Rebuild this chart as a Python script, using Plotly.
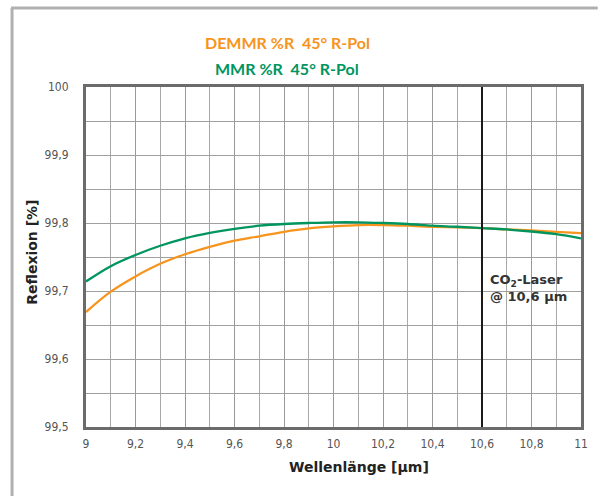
import plotly.graph_objects as go

wavelength = [9.0, 9.1, 9.2, 9.3, 9.4, 9.5, 9.6, 9.7, 9.8, 9.9, 10.0,
              10.1, 10.2, 10.3, 10.4, 10.5, 10.6, 10.7, 10.8, 10.9, 11.0]
mmr = [99.714, 99.7365, 99.753, 99.7665, 99.7775, 99.7855, 99.7915, 99.796, 99.7985, 99.800, 99.801,
       99.801, 99.800, 99.7985, 99.796, 99.7945, 99.7925, 99.7905, 99.7875, 99.7835, 99.7775]
demmr = [99.669, 99.699, 99.7215, 99.740, 99.754, 99.765, 99.774, 99.7805, 99.787, 99.792, 99.795,
         99.797, 99.797, 99.796, 99.7945, 99.7935, 99.7925, 99.7905, 99.789, 99.787, 99.785]
laser_wl = 10.6

x_tickvals = [9.0, 9.2, 9.4, 9.6, 9.8, 10.0, 10.2, 10.4, 10.6, 10.8, 11.0]
x_ticktext = ["9", "9,2", "9,4", "9,6", "9,8", "10", "10,2", "10,4", "10,6", "10,8", "11"]
y_tickvals = [99.5, 99.6, 99.7, 99.8, 99.9, 100.0]
y_ticktext = ["99,5", "99,6", "99,7", "99,8", "99,9", "100"]

ORANGE = "#F7941D"
GREEN = "#00955F"
TICKFONT = dict(family="DejaVu Sans Condensed, Liberation Sans Narrow, sans-serif", size=12, color="#555555")
BOLD = "Lato, DejaVu Sans, sans-serif"
WIDE = "DejaVu Sans, sans-serif"

fig = go.Figure()
fig.add_trace(go.Scatter(x=wavelength, y=demmr, mode="lines", line=dict(color=ORANGE, width=2.3, shape="spline"),
                         name="DEMMR", showlegend=False))
fig.add_trace(go.Scatter(x=wavelength, y=mmr, mode="lines", line=dict(color=GREEN, width=2.3, shape="spline"),
                         name="MMR", showlegend=False))

L, R, T, B = 86, 11, 87, 69
W, H = 599, 496
pw, ph = W - L - R, H - T - B


def px(xp):
    return (xp - L) / pw


def py(yp):
    return (H - B - yp) / ph


def note(text, x, y, font, **kw):
    d = dict(text=text, xref="paper", yref="paper", x=px(x), y=py(y), showarrow=False,
             xanchor="center", yanchor="middle", font=font)
    d.update(kw)
    return d


fig.update_layout(
    width=W, height=H,
    margin=dict(l=L, r=R, t=T, b=B),
    paper_bgcolor="white", plot_bgcolor="white",
    xaxis=dict(range=[9, 11], tickvals=x_tickvals, ticktext=x_ticktext, showgrid=True,
               gridcolor="#999999", gridwidth=1, tickfont=TICKFONT, ticks="", ticklen=0,
               ticklabelstandoff=4,
               showline=True, mirror=True, linecolor="#6b6b6b", linewidth=3, zeroline=False,
               minor=dict(dtick=0.1, tick0=9, showgrid=True, gridcolor="#a8a8a8", gridwidth=1)),
    yaxis=dict(range=[99.5, 100], tickvals=y_tickvals, ticktext=y_ticktext, showgrid=True,
               gridcolor="#a0a0a0", gridwidth=1, tickfont=TICKFONT, ticks="", ticklen=0,
               ticklabelstandoff=12,
               showline=True, mirror=True, linecolor="#6b6b6b", linewidth=3, zeroline=False,
               minor=dict(dtick=0.05, tick0=99.5, showgrid=True, gridcolor="#a0a0a0", gridwidth=1)),
    shapes=[
        dict(type="line", xref="x", yref="paper", x0=laser_wl, x1=laser_wl, y0=0, y1=1,
             line=dict(color="#1a1a1a", width=2)),
        dict(type="line", xref="paper", yref="paper", x0=px(11), x1=px(11), y0=py(8), y1=py(500),
             line=dict(color="#b0b0b0", width=3)),
        dict(type="line", xref="paper", yref="paper", x0=px(10), x1=px(605), y0=py(8), y1=py(8),
             line=dict(color="#b0b0b0", width=3)),
    ],
    annotations=[
        note("<b>DEMMR %R  45° R-Pol</b>", 290, 42, dict(family=BOLD, size=16, color=ORANGE)),
        note("<b>MMR %R  45° R-Pol</b>", 290, 68, dict(family=BOLD, size=16, color=GREEN)),
        note("<b>Reflexion [%]</b>", 31, 252, dict(family=WIDE, size=14, color="#222222"), textangle=-90),
        note("<b>Wellenlänge [µm]</b>", 363, 467, dict(family=WIDE, size=14, color="#222222")),
        note("CO<sub>2</sub>-Laser<br>@ 10,6 µm", 494, 288,
             dict(family=WIDE, size=13, color="#333333", weight=600), xanchor="left", align="left"),
    ],
)

fig.write_html("out.html", post_script="document.body.style.margin='0';",
               config=dict(displayModeBar=False))
